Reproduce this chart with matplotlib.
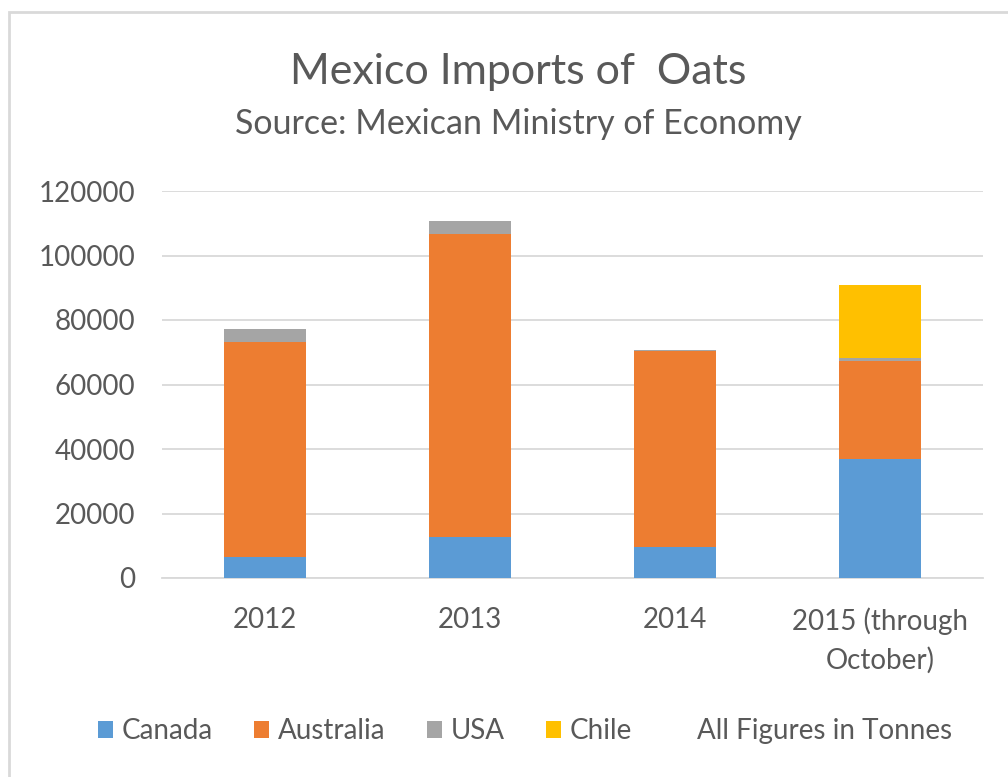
import numpy as np
import matplotlib
matplotlib.use('Agg')
from matplotlib import pyplot as plt
from matplotlib.patches import Patch, Rectangle

# values (tonnes)
years = ['2012', '2013', '2014', '2015 (through\nOctober)']
canada = [6400, 12750, 9650, 36800]
australia = [66700, 93900, 60650, 30400]
usa = [4100, 4200, 300, 1000]
chile = [0, 0, 0, 22500]
yticks = [0, 20000, 40000, 60000, 80000, 100000, 120000]

colors = {'Canada': '#5B9BD5', 'Australia': '#ED7D31', 'USA': '#A5A5A5', 'Chile': '#FFC000'}
txt = '#595959'

plt.rcParams['font.family'] = ['Lato', 'DejaVu Sans']

fig = plt.figure(figsize=(10.08, 7.77), dpi=100)
ax = fig.add_axes([162/1008, 1 - 578/777, (983 - 162)/1008, (578 - 191)/777])

x = np.arange(len(years))
w = 0.4
bottom = np.zeros(len(years))
for name, vals in [('Canada', canada), ('Australia', australia), ('USA', usa), ('Chile', chile)]:
    ax.bar(x, vals, w, bottom=bottom, color=colors[name], zorder=3)
    bottom += np.array(vals)

ax.set_xlim(-0.5, 3.5)
ax.set_ylim(0, 120000)
ax.set_yticks(yticks)
ax.set_yticklabels([str(t) for t in yticks])
ax.set_xticks(x)
ax.set_xticklabels(years, linespacing=1.55)
ax.yaxis.grid(True, color='#D9D9D9', linewidth=1.3, zorder=0)
for s in ['top', 'right', 'left']:
    ax.spines[s].set_visible(False)
ax.spines['bottom'].set_color('#D9D9D9')
ax.spines['bottom'].set_linewidth(1.3)
ax.tick_params(axis='both', length=0, labelsize=20, colors=txt)
ax.tick_params(axis='y', pad=19)
ax.tick_params(axis='x', pad=21)

fig.text(0.514, 1 - 72/777, 'Mexico Imports of  Oats', ha='center', va='center',
         fontsize=31, color=txt)
fig.text(0.514, 1 - 124/777, 'Source: Mexican Ministry of Economy', ha='center', va='center',
         fontsize=24.5, color=txt)

handles = [Patch(facecolor=colors[n]) for n in ['Canada', 'Australia', 'USA', 'Chile']]
handles.append(Patch(facecolor='none', edgecolor='none'))
labels = ['Canada', 'Australia', 'USA', 'Chile', 'All Figures in Tonnes']
fig.legend(handles, labels, loc='center', bbox_to_anchor=(0.521, 1 - 731/777), ncol=5,
           frameon=False, fontsize=20, labelcolor=txt, handlelength=0.55, handleheight=0.55,
           handletextpad=0.3, columnspacing=1.5)

# chart border of the screenshot
fig.patches.append(Rectangle((9/1008, -0.05), 1.2, 1 - 12/777 + 0.05, transform=fig.transFigure,
                             fill=False, edgecolor='#D9D9D9', linewidth=2))

fig.savefig('out.png', dpi=100, facecolor='white')
